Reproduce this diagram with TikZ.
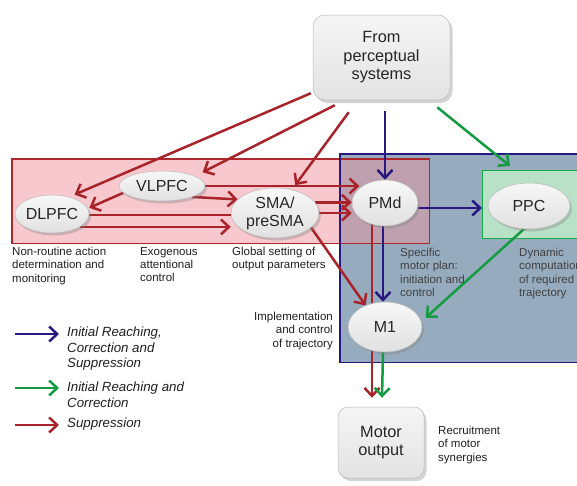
\documentclass[tikz,border=0pt]{standalone}
\usepackage{fontspec}
\setmainfont{Liberation Sans}
\usetikzlibrary{arrows.meta,shapes.geometric,shadows,calc}
\definecolor{redc}{RGB}{168,36,42}
\definecolor{bluec}{RGB}{40,25,130}
\definecolor{greenc}{RGB}{20,155,65}
\definecolor{pinkfill}{RGB}{247,200,205}
\definecolor{bluefill}{RGB}{150,172,190}
\definecolor{overlapc}{RGB}{190,160,175}
\definecolor{greenfill}{RGB}{185,225,200}
\definecolor{pinkbd}{RGB}{175,40,45}
\definecolor{greenbd}{RGB}{20,170,70}
\pgfdeclarelayer{bg}
\pgfdeclarelayer{arr}
\pgfsetlayers{bg,arr,main}
\begin{document}
\begin{tikzpicture}[x=1pt,y=-1pt,
  oval/.style={ellipse, inner sep=0pt, top color=gray!6, bottom color=gray!24,
    draw=gray!55, line width=.5pt,
    drop shadow={shadow xshift=2pt, shadow yshift=-2.5pt, opacity=.35},
    font=\fontsize{16}{18}\selectfont, text=black!85, align=center},
  grbox/.style={rectangle, rounded corners=12pt, inner sep=0pt, top color=gray!8, bottom color=gray!22,
    draw=gray!55, line width=.5pt,
    drop shadow={shadow xshift=2.5pt, shadow yshift=-3pt, opacity=.35},
    font=\fontsize{16.3}{18.5}\selectfont, text=black!85, align=center},
  region/.style={rectangle, inner sep=0pt, anchor=north west},
  lbl/.style={font=\fontsize{11.5}{13.4}\selectfont, align=left, inner sep=0pt, anchor=north west, text=black!88},
  leg/.style={font=\fontsize{13.3}{15.2}\selectfont\itshape, align=left, inner sep=0pt, anchor=north west, text=black!88},
  arw/.style={line width=2.5pt, -{Straight Barb[length=8pt,width=15pt,line width=2.5pt]}},
  ra/.style={arw, draw=redc},
  ba/.style={arw, draw=bluec},
  ga/.style={arw, draw=greenc},
  rl/.style={line width=2.5pt, draw=redc}
]
\useasboundingbox (0,0) rectangle (577,485);
\clip (0,0) rectangle (577,485);

% background regions
\begin{pgfonlayer}{bg}
\node[region, fill=bluefill, minimum width=250pt, minimum height=208pt] (mbox) at (340,154) {};
\node[region, fill=pinkfill, minimum width=417pt, minimum height=84pt] (pfc) at (12,159) {};
\fill[overlapc] (mbox.north west |- pfc.north) rectangle (pfc.south east);
\draw[pinkbd, line width=1.3pt] (pfc.north west) rectangle (pfc.south east);
\draw[bluec, line width=1.3pt] (mbox.north west) rectangle (mbox.south east);
\node[region, fill=greenfill, draw=greenbd, line width=1.3pt, minimum width=110pt, minimum height=68pt] (gbox) at (482,170) {};
\end{pgfonlayer}

% main nodes
\node[grbox, minimum width=137pt, minimum height=85pt] (from) at (381.5,57.5) {From\\perceptual\\systems};
\node[grbox, minimum width=86pt, minimum height=71pt, rounded corners=10pt] (mo) at (381,442.5) {Motor\\output};
\node[oval, minimum width=74pt, minimum height=38pt] (dl) at (52,214) {DLPFC};
\node[oval, minimum width=86pt, minimum height=30pt] (vl) at (162,186) {VLPFC};
\node[oval, minimum width=88pt, minimum height=50pt] (sma) at (275,213) {SMA/\\preSMA};
\node[oval, minimum width=66pt, minimum height=46pt] (pmd) at (385,203) {PMd};
\node[oval, minimum width=82pt, minimum height=46pt] (ppc) at (529,206) {PPC};
\node[oval, minimum width=74pt, minimum height=50pt] (m1) at (385,327) {M1};

% labels
\node[lbl] (t1) at (12,247) {Non-routine action\\determination and\\monitoring};
\node[lbl] (t2) at (140,247) {Exogenous\\attentional\\control};
\node[lbl] (t3) at (232,247) {Global setting of\\output parameters};
\node[lbl, text=black!75] (t4) at (400,248) {Specific\\motor plan:\\initiation and\\control};
\node[lbl, text=black!75] (t5) at (519,248) {Dynamic\\computation\\of required\\trajectory};
\node[lbl, anchor=north east, align=right] (t6) at (333,312) {Implementation\\and control\\of trajectory};
\node[lbl] (t7) at (438,426) {Recruitment\\of motor\\synergies};

% legend
\node[leg] (g1) at (67,327) {Initial Reaching,\\Correction and\\Suppression};
\node[leg] (g2) at (67,382) {Initial Reaching and\\Correction};
\node[leg] (g3) at (67,418) {Suppression};
\coordinate (la1) at (15,334); \coordinate (lb1) at (59,334);
\coordinate (la2) at (15,388); \coordinate (lb2) at (59,388);
\coordinate (la3) at (15,425); \coordinate (lb3) at (59,425);

\begin{pgfonlayer}{arr}
% from perceptual systems
\draw[ra] ($(from.south west)+(-2,-7)$) -- ($(dl.40)+(3,-3)$);
\draw[ra] ($(from.south west)+(22,5)$) -- ($(vl.north east)+(10,-3)$);
\draw[ra] ($(from.south west)+(36,12)$) -- ($(sma.50)+(1,-5)$);
\draw[ba] ($(from.south -| pmd.north)+(0,11)$) -- (pmd.north);
\draw[ga] ($(from.south east)+(-13,7)$) -- ($(gbox.north west)+(28,-4)$);
% prefrontal
\draw[ra] (vl.190) -- ($(dl.10)+(2,0)$);
\draw[rl] ($(dl.east)+(0,1)$) -- ($(sma.west)+(0,2)$);
\draw[ra] (dl.-25) -- (dl.-25 -| sma.west);
\draw[ra] (vl.-20) -- (sma.160);
\draw[ra] (vl.east) -- (vl.east -| pmd.150);
\draw[ra] (sma.15) -- (sma.15 -| pmd.west);
\draw[ra] (sma.east) -- (sma.east -| pmd.west);
\draw[ra] (sma.-22) -- (m1.132);
% motor
\draw[ra] ($(pmd.south)+(-13,-2)$) -- ($(mo.north)+(-9,-9)$);
\draw[ba] ($(pmd.south)+(-2,0)$) -- ($(m1.north)+(-2,0)$);
\draw[ga] ($(m1.south)+(-2,0)$) -- ($(mo.north)+(1,-9)$);
\draw[ba] ($(pmd.east)+(0,5)$) -- ($(pmd.east -| gbox.west)+(0,5)$);
\draw[ga] ($(ppc.south)+(-2,-3)$) -- ($(m1.15)+(6,0)$);
% legend arrows
\draw[ba] (la1) -- (lb1);
\draw[ga] (la2) -- (lb2);
\draw[ra] (la3) -- (lb3);
\end{pgfonlayer}
\end{tikzpicture}
\end{document}
